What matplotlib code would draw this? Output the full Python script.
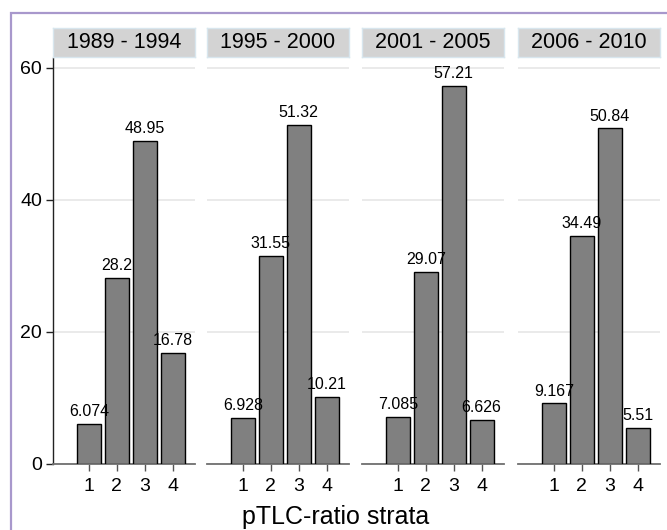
import matplotlib.pyplot as plt
from matplotlib.patches import Rectangle

plt.rcParams['font.family'] = ['Liberation Sans', 'DejaVu Sans']

# values
periods = ["1989 - 1994", "1995 - 2000", "2001 - 2005", "2006 - 2010"]
strata = [1, 2, 3, 4]
p1989 = [6.074, 28.2, 48.95, 16.78]
p1995 = [6.928, 31.55, 51.32, 10.21]
p2001 = [7.085, 29.07, 57.21, 6.626]
p2006 = [9.167, 34.49, 50.84, 5.51]
series = [p1989, p1995, p2001, p2006]
yticks = [0, 20, 40, 60]

W, H = 667, 530
fig = plt.figure(figsize=(W / 100, H / 100), dpi=100)
fig.patch.set_facecolor("white")

# outer frame (runs past right/bottom edge like the reference)
fig.add_artist(Rectangle((11 / W, -0.05), 1.1, 1 - 13 / H + 0.05,
                         transform=fig.transFigure, fill=False,
                         edgecolor="#a898cc", linewidth=1.6))

lefts = [53, 207, 362, 518]
pw = 142
top, base = 58, 464

for i, (name, vals) in enumerate(zip(periods, series)):
    l = lefts[i]
    ax = fig.add_axes([l / W, 1 - base / H, pw / W, (base - top) / H])
    ax.bar(strata, vals, width=0.86, color="#808080", edgecolor="black",
           linewidth=1.0, zorder=3)
    for x, v in zip(strata, vals):
        ax.annotate(f"{v:.4g}", (x, v), xytext=(0, 3.5),
                    textcoords="offset points", ha="center", va="bottom",
                    fontsize=11.5, zorder=4)
    ax.set_xlim(-0.29, 4.8)
    ax.set_ylim(0, 61.5)
    ax.set_xticks(strata)
    ax.set_yticks(yticks)
    ax.grid(axis="y", color="#e8e8e8", linewidth=1.3, zorder=0)
    for s in ["top", "right"]:
        ax.spines[s].set_visible(False)
    ax.spines["bottom"].set_color("#707070")
    ax.spines["bottom"].set_linewidth(1.3)
    ax.tick_params(axis="x", length=5, width=1, color="#555555",
                   labelsize=14, pad=5)
    if i == 0:
        ax.spines["left"].set_color("#222222")
        ax.spines["left"].set_linewidth(1.0)
        ax.tick_params(axis="y", length=5, width=1, color="#222222",
                       labelsize=14, pad=3)
    else:
        ax.spines["left"].set_visible(False)
        ax.tick_params(axis="y", left=False, labelleft=False)

    # panel header
    hx = fig.add_axes([l / W, 1 - 57 / H, pw / W, 29 / H])
    hx.set_facecolor("#d3d3d3")
    hx.set_xticks([])
    hx.set_yticks([])
    for s in hx.spines.values():
        s.set_color("#d8e6ee")
        s.set_linewidth(1.0)
    hx.text(0.5, 0.5, name, ha="center", va="center", fontsize=15.5,
            transform=hx.transAxes)

fig.text(336 / W, 1 - 517 / H, "pTLC-ratio strata", ha="center",
         va="center", fontsize=18)

fig.savefig("out.png", dpi=100)
